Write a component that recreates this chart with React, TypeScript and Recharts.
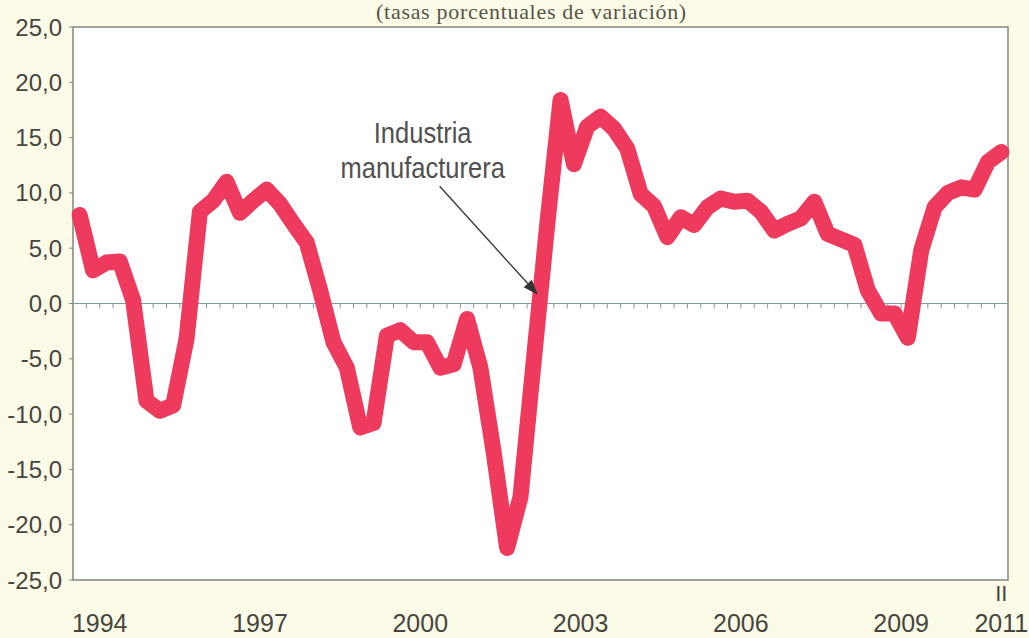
import React from 'react';
import { LineChart, Line, XAxis, YAxis, ReferenceLine, ReferenceArea } from 'recharts';

// Industria manufacturera, quarterly growth (%), 1994 I - 2011 II
const FIRST_YEAR = 1994;
const QUARTERS = ['I', 'II', 'III', 'IV'];
const GROWTH = [
    8.0, 3.0, 3.7, 3.8,
    0.3, -8.8, -9.7, -9.2,
    -3.2, 8.3, 9.3, 11.0,
    8.2, 9.3, 10.3, 9.0,
    7.2, 5.5, 1.2, -3.5,
    -5.8, -11.2, -10.8, -2.9,
    -2.4, -3.5, -3.5, -5.8,
    -5.5, -1.4, -5.8, -13.5,
    -22.1, -17.5, -5.1, 7.1,
    18.4, 12.6, 16.0, 16.9,
    15.8, 14.0, 9.9, 8.8,
    6.0, 7.8, 7.1, 8.7,
    9.5, 9.2, 9.3, 8.3,
    6.6, 7.2, 7.7, 9.2,
    6.3, 5.8, 5.3, 1.2,
    -0.9, -0.9, -3.1, 4.8,
    8.7, 10.0, 10.5, 10.3,
    12.8, 13.7,
];
const Y_TICKS = [-25, -20, -15, -10, -5, 0, 5, 10, 15, 20, 25];
const YEAR_LABELS = ['1994', '1997', '2000', '2003', '2006', '2009', '2011'];
const LAST_QUARTER = 'II';

const TITLE = '(tasas porcentuales de variación)';
const NOTE = ['Industria', 'manufacturera'];

const data = GROWTH.map((value, i) => ({
    period: `${FIRST_YEAR + Math.floor(i / 4)} ${QUARTERS[i % 4]}`,
    pos: i + 0.5,
    value,
}));
const N = data.length;

// year labels sit at the middle of the year; the last one at the last quarter
const yearTicks = YEAR_LABELS.map((y, i) =>
    i === YEAR_LABELS.length - 1 ? N - 0.5 : (Number(y) - FIRST_YEAR) * 4 + 2
);
const quarterBounds = data.slice(1).map((_, i) => i + 1);

const FONT = '"Liberation Sans", Arial, sans-serif';
const TEXT = '#46463e';
const RED = '#ee3a5c';
const AXIS = '#7f9ca2';

const YearTick = (props: any) => {
    const { x, y, payload } = props;
    const idx = yearTicks.indexOf(payload.value);
    const last = idx === YEAR_LABELS.length - 1;
    return (
        <g fontFamily={FONT} fill={TEXT} textAnchor="middle">
            {last && <text x={x} y={y + 21} fontSize={22}>{LAST_QUARTER}</text>}
            <text x={x} y={y + 52} fontSize={25}>{YEAR_LABELS[idx]}</text>
        </g>
    );
};

const Arrow = (props: any) => {
    const { x1, y1, x2, y2 } = props;
    const ang = Math.atan2(y2 - y1, x2 - x1);
    const len = 15, half = 5.5;
    const bx = x2 - len * Math.cos(ang), by = y2 - len * Math.sin(ang);
    const px = -Math.sin(ang) * half, py = Math.cos(ang) * half;
    return (
        <g>
            <line x1={x1} y1={y1} x2={bx} y2={by} stroke="#3a3a3a" strokeWidth={1.4} />
            <polygon points={`${x2},${y2} ${bx + px},${by + py} ${bx - px},${by - py}`} fill="#333" />
            {NOTE.map((t, i) => (
                <text
                    key={t}
                    transform={`translate(${x1 - 17},${y1 - 43 + i * 35}) scale(0.85,1)`}
                    textAnchor="middle"
                    fontFamily={FONT}
                    fontSize={30}
                    fill="#505050"
                >
                    {t}
                </text>
            ))}
        </g>
    );
};

export default function App() {
    return (
        <div style={{ position: 'absolute', left: 0, top: 0, width: 1029, height: 638, background: '#fcfbe8', overflow: 'hidden' }}>
            <div
                style={{
                    position: 'absolute', left: 0, width: 1029, top: 0, textAlign: 'center',
                    paddingLeft: 34, boxSizing: 'border-box', letterSpacing: 0.7,
                    fontFamily: '"Liberation Serif", "Times New Roman", serif', fontSize: 22, lineHeight: '23px', color: '#55554a',
                }}
            >
                {TITLE}
            </div>
            <LineChart width={1029} height={638} data={data} margin={{ top: 27, right: 21, bottom: 0, left: 0 }}>
                <ReferenceArea x1={0} x2={N} y1={-25} y2={25} fill="#ffffff" fillOpacity={1} stroke="#85857c" strokeWidth={1.5} />
                <XAxis
                    dataKey="pos"
                    type="number"
                    domain={[0, N]}
                    ticks={yearTicks}
                    interval={0}
                    height={58}
                    axisLine={false}
                    tickLine={false}
                    tickSize={0}
                    tickMargin={0}
                    tick={<YearTick />}
                />
                <YAxis
                    domain={[-25, 25]}
                    ticks={Y_TICKS}
                    interval={0}
                    width={73}
                    axisLine={false}
                    tickSize={4}
                    tickMargin={7}
                    tickLine={{ stroke: '#85857c' }}
                    tickFormatter={(v: number) => v.toFixed(1).replace('.', ',')}
                    tick={{ fontFamily: FONT, fontSize: 24, fill: TEXT }}
                />
                <ReferenceLine y={0} stroke={AXIS} strokeWidth={1.2} />
                {quarterBounds.map((k) => (
                    <ReferenceLine key={k} segment={[{ x: k, y: 0 }, { x: k, y: -0.45 }]} stroke={AXIS} strokeWidth={1} />
                ))}
                <Line
                    type="linear"
                    dataKey="value"
                    stroke={RED}
                    strokeWidth={16}
                    strokeLinejoin="round"
                    strokeLinecap="round"
                    dot={false}
                    activeDot={false}
                    isAnimationActive={false}
                />
                <ReferenceLine segment={[{ x: 27.45, y: 10.6 }, { x: 34.8, y: 0.8 }]} shape={<Arrow />} />
            </LineChart>
        </div>
    );
}
